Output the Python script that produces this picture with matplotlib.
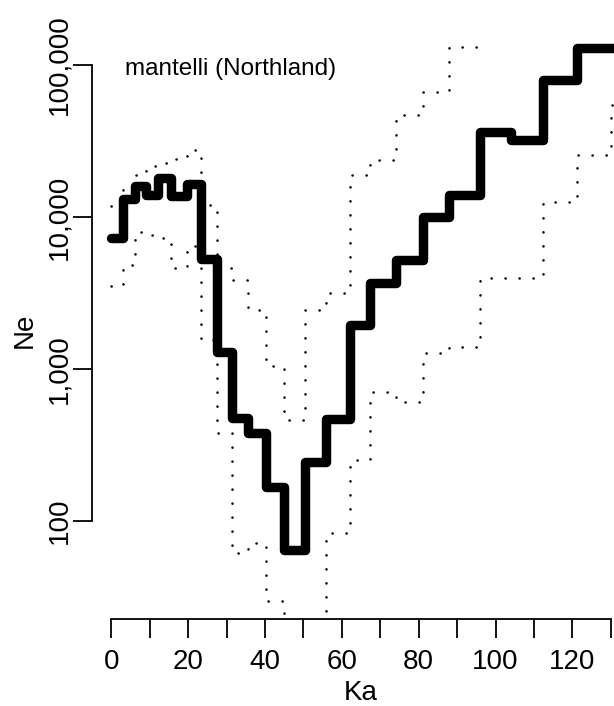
import matplotlib
matplotlib.use('Agg')
import matplotlib.pyplot as plt
import numpy as np

# step edges in Ka, shared by the median and the two interval lines
edges = [0, 3, 6.1, 8.9, 12, 15.5, 19.7, 23.2, 27.4, 31.3, 35.5, 40.2, 45,
         50.4, 55.9, 62, 67.4, 74, 81, 88, 96, 104, 112.3, 121.2, 130, 140]

# Ne per interval
ne_median = [7240, 13100, 16000, 14000, 18000, 13700, 16500, 5300, 1300, 474,
             378, 167, 64, 245, 467, 1950, 3700, 5210, 9930, 14000, 36400,
             32100, 79600, 128800, 128800]
ne_lower = [3520, 4830, 7910, 7620, 7280, 4610, 6440, 1550, 380, 61.6, 71.7,
            29.8, 12, 17, 83.4, 252, 706, 607, 1270, 1400, 3970, 3970, 12600,
            25600, 54500]
ne_upper = [11800, 15500, 18900, 21700, 22700, 24100, 27600, 12000, 4610,
            3850, 2440, 1050, 462, 2440, 3160, 18900, 23700, 46900, 66400,
            131000, 320000, 300000, 700000, 1000000, 1000000]

xticks = list(range(0, 131, 10))
xtick_labels = ['0', '', '20', '', '40', '', '60', '', '80', '', '100', '', '120', '']
yticks = [100, 1000, 10000, 100000]
ytick_labels = ['100', '1,000', '10,000', '100,000']
title = 'mantelli (Northland)'

plt.rcParams['font.family'] = ['Liberation Sans', 'DejaVu Sans']

W, H = 614, 706
fig = plt.figure(figsize=(W / 100, H / 100), dpi=100)
# plot region runs past the right edge, as in the cropped original
ax = fig.add_axes([91.5 / W, (H - 619) / H, (630.7 - 91.5) / W, (619 - 41) / H])
ax.set_yscale('log')
ax.set_xlim(-5.2, 135.2)
ax.set_ylim(10 ** 1.355, 10 ** 5.158)

def steps(vals):
    return edges, list(vals) + [vals[-1]]

for vals in (ne_lower, ne_upper):
    x, y = steps(vals)
    ax.step(x, y, where='post', color='black', lw=1.8,
            dashes=(0.1, 5.5), dash_capstyle='round')

x, y = steps(ne_median)
ax.step(x, y, where='post', color='black', lw=6.8,
        solid_joinstyle='round', solid_capstyle='round')

# R-style detached axes
for s in ('top', 'right'):
    ax.spines[s].set_visible(False)
ax.spines['left'].set_bounds(yticks[0], yticks[-1])
ax.spines['bottom'].set_bounds(xticks[0], xticks[-1])
for s in ('left', 'bottom'):
    ax.spines[s].set_linewidth(1.3)

ax.set_xticks(xticks)
ax.set_xticklabels(xtick_labels)
ax.set_yticks(yticks)
ax.set_yticklabels(ytick_labels)
ax.yaxis.set_minor_locator(matplotlib.ticker.NullLocator())
ax.tick_params(direction='out', length=13.7, width=1.3, labelsize=20)
ax.tick_params(axis='x', pad=8)
ax.tick_params(axis='y', pad=0)
plt.setp(ax.get_yticklabels(), rotation=90, va='center')

ax.set_xlabel('Ka', fontsize=20, va='top')
ax.xaxis.set_label_coords(361 / W, (H - 680) / H, transform=fig.transFigure)
ax.set_ylabel('Ne', fontsize=20, va='baseline')
ax.yaxis.set_label_coords(32 / W, (H - 330) / H, transform=fig.transFigure)

fig.text(125 / W, 1 - 69 / H, title, fontsize=17.5, ha='left', va='center')

fig.savefig('out.png', dpi=100)
